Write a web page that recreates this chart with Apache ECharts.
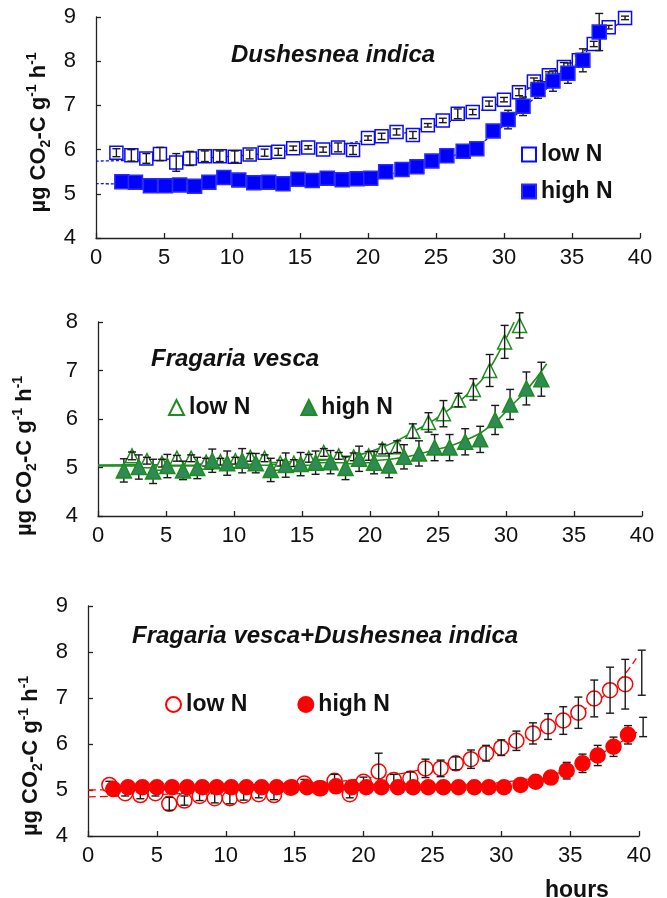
<!DOCTYPE html>
<html>
<head>
<meta charset="utf-8">
<script src="https://cdn.jsdelivr.net/npm/echarts@6/dist/echarts.min.js"></script>
<style>
  html, body { margin: 0; padding: 0; background: #fff; }
  #chart { width: 667px; height: 898px; }
</style>
</head>
<body>
<div id="chart"></div>
<script>
// panel 1: Dushesnea indica
var dLowHours = [1.5, 2.6, 3.7, 4.7, 5.9, 6.9, 8.0, 9.1, 10.2, 11.3, 12.4, 13.4, 14.5, 15.6, 16.7, 17.8, 18.9, 20.0, 21.0, 22.1, 23.3, 24.4, 25.5, 26.6, 27.7, 28.9, 30.0, 31.1, 32.2, 33.3, 34.4, 35.5, 36.6, 37.7, 38.9];
var dLowVals = [5.93, 5.87, 5.80, 5.90, 5.71, 5.80, 5.85, 5.85, 5.84, 5.89, 5.93, 5.95, 6.03, 6.05, 6.00, 6.05, 5.99, 6.26, 6.30, 6.40, 6.33, 6.55, 6.66, 6.81, 6.85, 7.04, 7.13, 7.30, 7.54, 7.68, 7.87, 8.02, 8.39, 8.77, 8.98];
var dLowErr = [0.09, 0.13, 0.11, 0.15, 0.2, 0.16, 0.12, 0.12, 0.13, 0.1, 0.08, 0.08, 0.05, 0.04, 0.06, 0.1, 0.1, 0.05, 0.07, 0.07, 0.08, 0.04, 0.05, 0.11, 0.06, 0.06, 0.05, 0.08, 0.08, 0.08, 0.1, 0.1, 0.06, 0.04, 0.04];
var dHighHours = [1.9, 2.9, 4.0, 5.1, 6.15, 7.25, 8.3, 9.4, 10.5, 11.6, 12.7, 13.75, 14.85, 15.9, 17.0, 18.1, 19.2, 20.2, 21.3, 22.5, 23.6, 24.7, 25.8, 27.0, 28.0, 29.2, 30.3, 31.4, 32.5, 33.6, 34.7, 35.8, 37.0];
var dHighVals = [5.27, 5.26, 5.18, 5.18, 5.20, 5.17, 5.26, 5.37, 5.31, 5.25, 5.26, 5.23, 5.33, 5.30, 5.35, 5.32, 5.34, 5.35, 5.50, 5.55, 5.61, 5.74, 5.86, 5.96, 6.02, 6.42, 6.68, 6.98, 7.36, 7.55, 7.73, 8.02, 8.66];
var dHighErr = [0.08, 0.08, 0.08, 0.08, 0.08, 0.08, 0.08, 0.08, 0.08, 0.08, 0.08, 0.08, 0.08, 0.08, 0.08, 0.08, 0.08, 0.08, 0.08, 0.08, 0.08, 0.08, 0.08, 0.08, 0.08, 0.1, 0.21, 0.21, 0.2, 0.23, 0.23, 0.26, 0.42];
var dLowTrendX = [0, 5, 10, 15, 20, 25, 28, 31, 34, 37, 39];
var dLowTrendY = [5.74, 5.78, 5.85, 6.0, 6.22, 6.55, 6.85, 7.25, 7.8, 8.5, 9.0];
var dHighTrendX = [0, 5, 10, 15, 20, 25, 28, 30, 32, 34, 36, 37];
var dHighTrendY = [5.23, 5.22, 5.25, 5.3, 5.38, 5.75, 6.1, 6.55, 7.1, 7.6, 8.2, 8.6];

// panel 2: Fragaria vesca
var fLowHours = [2.5, 3.6, 4.7, 5.8, 6.85, 7.95, 9.0, 10.1, 11.2, 12.25, 13.4, 14.4, 15.5, 16.6, 17.7, 18.8, 19.9, 20.9, 22.0, 23.15, 24.3, 25.4, 26.5, 27.6, 28.8, 29.9, 31.0];
var fLowVals = [5.24, 5.14, 5.09, 5.19, 5.19, 5.11, 5.12, 5.14, 5.21, 5.19, 5.09, 5.09, 5.19, 5.31, 5.24, 5.22, 5.24, 5.38, 5.43, 5.75, 5.93, 6.11, 6.39, 6.61, 7.00, 7.59, 7.93];
var fLowErr = [0.08, 0.07, 0.08, 0.06, 0.07, 0.08, 0.07, 0.07, 0.08, 0.07, 0.06, 0.07, 0.08, 0.08, 0.07, 0.08, 0.09, 0.1, 0.12, 0.15, 0.2, 0.27, 0.14, 0.22, 0.33, 0.34, 0.26];
var fHighHours = [1.9, 3.0, 4.05, 5.1, 6.25, 7.3, 8.4, 9.5, 10.6, 11.6, 12.7, 13.8, 14.9, 16.0, 17.1, 18.2, 19.2, 20.3, 21.4, 22.5, 23.6, 24.75, 25.85, 27.0, 28.1, 29.2, 30.3, 31.5, 32.6];
var fHighVals = [4.94, 5.01, 4.92, 5.03, 4.94, 4.99, 5.14, 5.09, 5.14, 5.09, 4.95, 5.05, 5.07, 5.10, 5.11, 4.99, 5.18, 5.10, 5.04, 5.22, 5.29, 5.41, 5.41, 5.53, 5.58, 5.98, 6.30, 6.63, 6.82];
var fHighErr = [0.24, 0.25, 0.25, 0.24, 0.19, 0.22, 0.24, 0.25, 0.25, 0.2, 0.24, 0.25, 0.24, 0.24, 0.24, 0.24, 0.26, 0.23, 0.25, 0.25, 0.26, 0.27, 0.27, 0.27, 0.27, 0.3, 0.31, 0.34, 0.35];
var fLowTrendX = [0, 5, 10, 15, 18, 21, 23.2, 25.4, 27.6, 28.7, 29.8, 30.6];
var fLowTrendY = [5.05, 5.06, 5.08, 5.13, 5.2, 5.43, 5.74, 6.11, 6.63, 7.0, 7.55, 8.0];
var fHighTrendX = [0, 5, 10, 15, 18, 21.5, 24.7, 27.1, 29.1, 30.3, 31.5, 33.0];
var fHighTrendY = [5.03, 5.03, 5.05, 5.08, 5.12, 5.17, 5.36, 5.57, 5.91, 6.25, 6.59, 7.14];

// panel 3: Fragaria vesca + Dushesnea indica (last point of each has an error bar only)
var mLowHours = [1.55, 2.7, 3.8, 4.9, 5.9, 7.0, 8.1, 9.2, 10.3, 11.3, 12.4, 13.5, 14.7, 15.7, 16.8, 17.9, 19.0, 20.0, 21.1, 22.2, 23.4, 24.5, 25.6, 26.7, 27.8, 28.9, 30.0, 31.1, 32.3, 33.4, 34.5, 35.6, 36.75, 37.9, 39.0, 40.2];
var mLowVals = [5.11, 4.93, 4.89, 4.93, 4.70, 4.77, 4.87, 4.82, 4.82, 4.88, 4.91, 4.89, 5.05, 5.14, 5.04, 5.20, 4.91, 5.18, 5.40, 5.22, 5.25, 5.47, 5.47, 5.58, 5.67, 5.80, 5.92, 6.07, 6.23, 6.38, 6.51, 6.68, 6.99, 7.17, 7.30, 7.55];
var mLowErr = [0.08, 0.06, 0.08, 0.06, 0.14, 0.1, 0.1, 0.1, 0.12, 0.1, 0.08, 0.1, 0.05, 0.09, 0.06, 0.14, 0.08, 0.1, 0.4, 0.12, 0.14, 0.2, 0.18, 0.14, 0.2, 0.17, 0.17, 0.21, 0.23, 0.28, 0.3, 0.34, 0.4, 0.5, 0.54, 0.49];
var mHighHours = [1.84, 2.9, 3.95, 5.0, 6.1, 7.2, 8.3, 9.35, 10.4, 11.5, 12.6, 13.7, 14.8, 15.9, 16.9, 18.0, 19.15, 20.2, 21.3, 22.5, 23.6, 24.7, 25.8, 26.9, 28.05, 29.1, 30.2, 31.4, 32.5, 33.6, 34.75, 35.9, 37.0, 38.15, 39.2, 40.3];
var mHighVals = [5.02, 5.06, 5.06, 5.06, 5.06, 5.06, 5.06, 5.06, 5.06, 5.06, 5.06, 5.06, 5.06, 5.06, 5.04, 5.08, 5.06, 5.06, 5.06, 5.06, 5.06, 5.06, 5.06, 5.06, 5.06, 5.06, 5.06, 5.11, 5.18, 5.27, 5.42, 5.58, 5.75, 5.94, 6.20, 6.37];
var mHighErr = [0.05, 0.05, 0.05, 0.05, 0.05, 0.05, 0.05, 0.05, 0.05, 0.05, 0.05, 0.05, 0.05, 0.05, 0.05, 0.05, 0.05, 0.05, 0.05, 0.05, 0.05, 0.05, 0.05, 0.05, 0.05, 0.05, 0.05, 0.06, 0.06, 0.08, 0.18, 0.2, 0.22, 0.21, 0.2, 0.21];
var mLowTrendX = [0, 5, 10, 15, 20, 25, 30, 33, 35.6, 37.9, 39.8];
var mLowTrendY = [4.85, 4.9, 4.98, 5.1, 5.25, 5.5, 5.95, 6.3, 6.68, 7.17, 7.86];
var mHighTrendX = [0, 10, 20, 25, 28, 31, 33, 35, 37, 39, 40.1];
var mHighTrendY = [5.0, 5.03, 5.05, 5.08, 5.12, 5.2, 5.3, 5.45, 5.75, 6.1, 6.3];

var font = 'Liberation Sans, Arial, sans-serif';

function zip(xs, ys, es) {
    return xs.map(function (x, i) { return es ? [x, ys[i], es[i]] : [x, ys[i]]; });
}

function errBar(params, api) {
    var x = api.value(0), y = api.value(1), e = api.value(2);
    var lo = api.coord([x, y - e]), hi = api.coord([x, y + e]);
    var w = 4;
    var st = { stroke: '#1a1a1a', lineWidth: 1.4 };
    return {
        type: 'group',
        children: [
            { type: 'line', shape: { x1: lo[0], y1: lo[1], x2: hi[0], y2: hi[1] }, style: st },
            { type: 'line', shape: { x1: lo[0] - w, y1: lo[1], x2: lo[0] + w, y2: lo[1] }, style: st },
            { type: 'line', shape: { x1: hi[0] - w, y1: hi[1], x2: hi[0] + w, y2: hi[1] }, style: st }
        ]
    };
}

function xAx(i) {
    return {
        gridIndex: i, type: 'value', min: 0, max: 40, interval: 5,
        axisLine: { lineStyle: { color: '#222', width: 1.3 } },
        axisTick: { inside: true, length: 5, lineStyle: { color: '#222', width: 1.3 } },
        axisLabel: { fontFamily: font, fontSize: 22, color: '#111', margin: 9 },
        splitLine: { show: false }
    };
}

var yName = '{a|µg CO}{s|2}{a|-C g}{p|-1}{a| h}{p|-1}';
var yRich = {
    a: { fontFamily: font, fontSize: 22, fontWeight: 'bold', color: '#111', lineHeight: 28, verticalAlign: 'middle' },
    s: { fontFamily: font, fontSize: 14, fontWeight: 'bold', color: '#111', lineHeight: 28, verticalAlign: 'bottom' },
    p: { fontFamily: font, fontSize: 14, fontWeight: 'bold', color: '#111', lineHeight: 28, verticalAlign: 'top' }
};

// shift pushes the rotated name down the axis (padding at the text's end)
function yAx(i, max, gap, shift) {
    return {
        gridIndex: i, type: 'value', min: 4, max: max, interval: 1,
        name: yName, nameLocation: 'middle', nameRotate: 90, nameGap: gap,
        nameTextStyle: { rich: yRich, padding: [0, shift, 0, 0] },
        axisLine: { show: true, lineStyle: { color: '#222', width: 1.3 } },
        axisTick: { show: true, inside: true, length: 5, lineStyle: { color: '#222', width: 1.3 } },
        axisLabel: { fontFamily: font, fontSize: 22, color: '#111', margin: 20 },
        splitLine: { show: false }
    };
}

var blue = '#0a0aff';
var green = '#1e8c1e';
var greenFill = '#2e8b57';
var red = '#ff0000';

function trend(name, i, xs, ys, color, type, width) {
    return {
        name: name, type: 'line', xAxisIndex: i, yAxisIndex: i, data: zip(xs, ys),
        smooth: true, symbol: 'none', z: 1, silent: true,
        lineStyle: { color: color, width: width, type: type }
    };
}

function marks(name, i, data, symbol, size, fill, border, z) {
    return {
        name: name, type: 'scatter', xAxisIndex: i, yAxisIndex: i, data: data,
        symbol: symbol, symbolSize: size, z: z,
        itemStyle: { color: fill, borderColor: border, borderWidth: 1.5, opacity: 1 }
    };
}

function bars(i, data, z) {
    return {
        type: 'custom', xAxisIndex: i, yAxisIndex: i, data: data, z: z,
        renderItem: errBar, silent: true
    };
}

var legendText = { fontFamily: font, fontSize: 23, fontWeight: 'bold', color: '#111' };
var titleText = { fontFamily: font, fontSize: 24, fontWeight: 'bold', fontStyle: 'italic', color: '#111' };
function legendName(n) { return n.indexOf('low') >= 0 ? 'low N' : 'high N'; }

var chart = echarts.init(document.getElementById('chart'));
chart.setOption({
    animation: false,
    backgroundColor: '#fff',
    title: [
        { text: 'Dushesnea indica', left: 231, top: 43, padding: 0, textStyle: titleText },
        { text: 'Fragaria vesca', left: 151, top: 347, padding: 0, textStyle: titleText },
        { text: 'Fragaria vesca+Dushesnea indica', left: 132, top: 624, padding: 0, textStyle: titleText },
        { text: 'hours', left: 545, top: 879, padding: 0,
          textStyle: { fontFamily: font, fontSize: 23, fontWeight: 'bold', color: '#111' } }
    ],
    legend: [
        { data: ['D low', 'D high'], orient: 'vertical', left: 521, top: 143, itemGap: 14,
          itemWidth: 14, itemHeight: 14, padding: 0, formatter: legendName, textStyle: legendText, selectedMode: false },
        { data: ['F low', 'F high'], orient: 'horizontal', left: 168, top: 396, itemGap: 50,
          itemWidth: 15, itemHeight: 15, padding: 0, formatter: legendName, textStyle: legendText, selectedMode: false },
        { data: ['M low', 'M high'], orient: 'horizontal', left: 165, top: 693, itemGap: 50,
          itemWidth: 15, itemHeight: 15, padding: 0, formatter: legendName, textStyle: legendText, selectedMode: false }
    ],
    grid: [
        { left: 96, top: 17, width: 544, height: 221 },
        { left: 98, top: 322, width: 544, height: 194 },
        { left: 88, top: 606, width: 551, height: 230 }
    ],
    xAxis: [xAx(0), xAx(1), xAx(2)],
    yAxis: [yAx(0, 9, 34, 10), yAx(1, 8, 59, 74), yAx(2, 9, 35, 70)],
    series: [
        trend('D low t', 0, dLowTrendX, dLowTrendY, blue, [3, 2], 1.3),
        trend('D high t', 0, dHighTrendX, dHighTrendY, blue, [3, 2], 1.3),
        marks('D low', 0, zip(dLowHours, dLowVals), 'rect', 13, '#fff', blue, 2),
        bars(0, zip(dLowHours, dLowVals, dLowErr), 3),
        bars(0, zip(dHighHours, dHighVals, dHighErr), 4),
        marks('D high', 0, zip(dHighHours, dHighVals), 'rect', 14, '#0000ff', '#2a2aff', 5),

        trend('F low t', 1, fLowTrendX, fLowTrendY, green, 'solid', 1.6),
        trend('F high t', 1, fHighTrendX, fHighTrendY, green, 'solid', 1.6),
        marks('F low', 1, zip(fLowHours, fLowVals), 'triangle', 14, '#fff', green, 2),
        bars(1, zip(fLowHours, fLowVals, fLowErr), 3),
        bars(1, zip(fHighHours, fHighVals, fHighErr), 4),
        marks('F high', 1, zip(fHighHours, fHighVals), 'triangle', 15, greenFill, green, 5),

        trend('M low t', 2, mLowTrendX, mLowTrendY, red, [8, 4], 1.3),
        trend('M high t', 2, mHighTrendX, mHighTrendY, red, [8, 4], 1.3),
        marks('M low', 2, zip(mLowHours, mLowVals).slice(0, -1), 'circle', 15, '#fff', red, 2),
        bars(2, zip(mLowHours, mLowVals, mLowErr), 3),
        bars(2, zip(mHighHours, mHighVals, mHighErr), 4),
        marks('M high', 2, zip(mHighHours, mHighVals).slice(0, -1), 'circle', 15, red, red, 5)
    ]
});
</script>
</body>
</html>
